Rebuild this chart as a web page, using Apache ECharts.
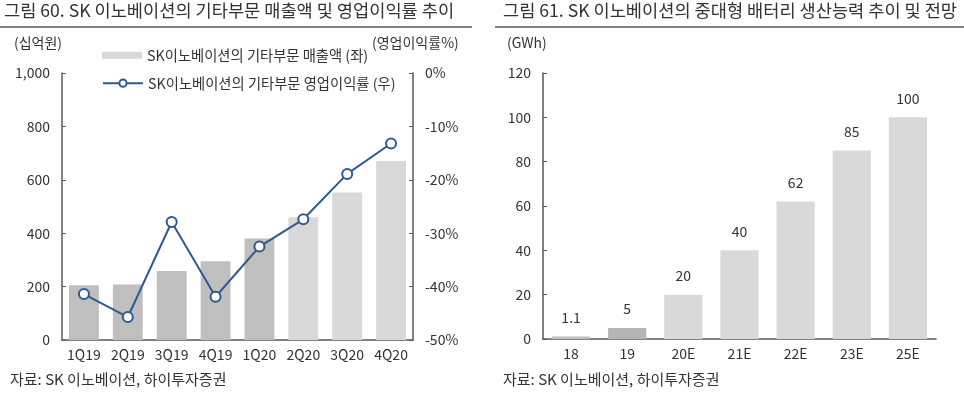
<!DOCTYPE html>
<html>
<head>
<meta charset="utf-8">
<script src="https://cdn.jsdelivr.net/npm/echarts@6/dist/echarts.min.js"></script>
<style>
  html, body { margin: 0; padding: 0; background: #fff; }
  #chart { width: 964px; height: 396px; }
</style>
</head>
<body>
<div id="chart"></div>
<script>
// 그림 60 data
const quarters = ['1Q19', '2Q19', '3Q19', '4Q19', '1Q20', '2Q20', '3Q20', '4Q20']
const otherSales = [205, 208, 258, 295, 380, 460, 552, 670]
const otherMargin = [-41.4, -45.7, -27.9, -41.9, -32.5, -27.4, -18.9, -13.2]
const salesTicks = [0, 200, 400, 600, 800, 1000]

// 그림 61 data
const years = ['18', '19', '20E', '21E', '22E', '23E', '25E']
const capacity = [1.1, 5, 20, 40, 62, 85, 100]

const FONT = '"Noto Sans CJK KR", "Noto Sans", sans-serif'
const TXT = '#333333'
const AXIS = '#595959'
const DARK_BAR = '#bfbfbf'
const LIGHT_BAR = '#d9d9d9'
const BLUE = '#2e5a8e'

const SALES_NAME = 'SK이노베이션의 기타부문 매출액 (좌)'
const MARGIN_NAME = 'SK이노베이션의 기타부문 영업이익률 (우)'

const chart = echarts.init(document.getElementById('chart'))

const axisLabel = { color: TXT, fontSize: 14, fontFamily: FONT }
const legendText = { color: TXT, fontSize: 14.3, fontFamily: FONT }

chart.setOption({
  animation: false,
  textStyle: { fontFamily: FONT },
  graphic: [
    { type: 'text', left: 4, top: 2, style: { text: '그림 60. SK 이노베이션의 기타부문 매출액 및 영업이익률 추이', fill: TXT, font: '17.6px ' + FONT } },
    { type: 'text', left: 503, top: 2, style: { text: '그림 61. SK 이노베이션의 중대형 배터리 생산능력 추이 및 전망', fill: TXT, font: '17.6px ' + FONT } },
    { type: 'line', shape: { x1: 0, y1: 27, x2: 472, y2: 27 }, style: { stroke: '#555', lineWidth: 1.5 } },
    { type: 'line', shape: { x1: 495, y1: 27, x2: 964, y2: 27 }, style: { stroke: '#555', lineWidth: 1.5 } },
    { type: 'text', left: 14, top: 36, style: { text: '(십억원)', fill: TXT, font: '14px ' + FONT } },
    { type: 'text', left: 372, top: 36, style: { text: '(영업이익률%)', fill: TXT, font: '14px ' + FONT } },
    { type: 'text', left: 507, top: 36, style: { text: '(GWh)', fill: TXT, font: '14px ' + FONT } },
    { type: 'text', left: 10, top: 372, style: { text: '자료: SK 이노베이션, 하이투자증권', fill: TXT, font: '15px ' + FONT } },
    { type: 'text', left: 503, top: 372, style: { text: '자료: SK 이노베이션, 하이투자증권', fill: TXT, font: '15px ' + FONT } }
  ],
  legend: [
    {
      left: 97,
      top: 43,
      itemWidth: 40,
      itemHeight: 7,
      textStyle: legendText,
      data: [{ name: SALES_NAME, icon: 'rect' }]
    },
    {
      left: 97,
      top: 71,
      itemWidth: 40,
      itemHeight: 9,
      textStyle: legendText,
      data: [{ name: MARGIN_NAME }]
    }
  ],
  grid: [
    { left: 62, right: 551, top: 73, bottom: 56 },
    { left: 543, right: 28, top: 73, bottom: 57 }
  ],
  xAxis: [
    {
      type: 'category',
      gridIndex: 0,
      data: quarters,
      axisLine: { lineStyle: { color: AXIS, width: 1.5 } },
      axisTick: { inside: true, length: 4, lineStyle: { color: AXIS } },
      axisLabel: { ...axisLabel, margin: 8 }
    },
    {
      type: 'category',
      gridIndex: 1,
      data: years,
      axisLine: { lineStyle: { color: AXIS, width: 1.5 } },
      axisTick: { inside: true, length: 4, lineStyle: { color: AXIS } },
      axisLabel: { ...axisLabel, margin: 8 }
    }
  ],
  yAxis: [
    {
      type: 'value',
      gridIndex: 0,
      min: salesTicks[0],
      max: salesTicks[salesTicks.length - 1],
      interval: 200,
      splitLine: { show: false },
      axisLine: { show: true, lineStyle: { color: AXIS, width: 1.5 } },
      axisTick: { show: true, inside: true, length: 4, lineStyle: { color: AXIS } },
      axisLabel: {
        ...axisLabel,
        margin: 12,
        formatter: v => String(v).replace(/\B(?=(\d{3})+(?!\d))/g, ',')
      }
    },
    {
      type: 'value',
      gridIndex: 0,
      position: 'right',
      min: -50,
      max: 0,
      interval: 10,
      splitLine: { show: false },
      axisLine: { show: true, lineStyle: { color: AXIS, width: 1.5 } },
      axisTick: { show: true, inside: true, length: 4, lineStyle: { color: AXIS } },
      axisLabel: { ...axisLabel, margin: 12, formatter: '{value}%' }
    },
    {
      type: 'value',
      gridIndex: 1,
      min: 0,
      max: 120,
      interval: 20,
      splitLine: { show: false },
      axisLine: { show: true, lineStyle: { color: AXIS, width: 1.5 } },
      axisTick: { show: true, inside: true, length: 4, lineStyle: { color: AXIS } },
      axisLabel: { ...axisLabel, margin: 12 }
    }
  ],
  series: [
    {
      name: SALES_NAME,
      type: 'bar',
      xAxisIndex: 0,
      yAxisIndex: 0,
      barWidth: '68%',
      itemStyle: { color: LIGHT_BAR },
      data: otherSales.map((v, i) => ({
        value: v,
        itemStyle: { color: i < 5 ? DARK_BAR : LIGHT_BAR }
      }))
    },
    {
      name: MARGIN_NAME,
      type: 'line',
      xAxisIndex: 0,
      yAxisIndex: 1,
      symbol: 'circle',
      symbolSize: 10,
      lineStyle: { color: BLUE, width: 2 },
      itemStyle: { color: '#fff', borderColor: BLUE, borderWidth: 2 },
      data: otherMargin
    },
    {
      name: 'capacity',
      type: 'bar',
      xAxisIndex: 1,
      yAxisIndex: 2,
      barWidth: '68%',
      label: { show: true, position: 'top', distance: 12, color: TXT, fontSize: 14, fontFamily: FONT },
      data: capacity.map((v, i) => ({
        value: v,
        itemStyle: { color: i < 2 ? (i === 1 ? '#b5b5b5' : DARK_BAR) : LIGHT_BAR }
      }))
    }
  ]
})
</script>
</body>
</html>
